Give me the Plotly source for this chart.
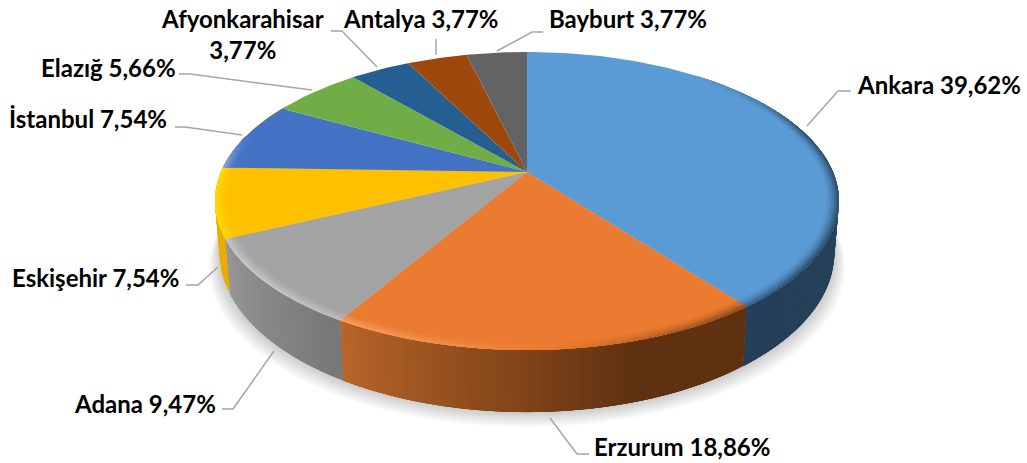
import numpy as np
import plotly.graph_objects as go

cities = ["Ankara", "Erzurum", "Adana", "Eskişehir", "İstanbul", "Elazığ", "Afyonkarahisar", "Antalya", "Bayburt"]
shares = [39.62, 18.86, 9.47, 7.54, 7.54, 5.66, 3.77, 3.77, 3.77]
top_colors = ["#5B9BD5", "#EB7B30", "#A3A3A3", "#FFC000", "#4472C4", "#70AD47", "#255E91", "#9E480E", "#636363"]
# side wall colour at the start and at the end of each slice (clockwise)
wall_from = ["#2A4B69", "#5F3111", "#777777", "#E9AE00", "#E9AE00", "#4F7A33", "#1B4468", "#6E320A", "#444444"]
wall_to = ["#243F57", "#BA6528", "#989898", "#E9AE00", "#E9AE00", "#4F7A33", "#1B4468", "#6E320A", "#444444"]
rim_light = ["#FFFFFF", "#FBAE74", "#C4C4C4", "#FFD900", "#8FAADC", "#A9D18E", "#FFFFFF", "#FFFFFF", "#FFFFFF"]

# label text anchor: x, y, xanchor
label_pos = [
    (855, 84, "left"), (592, 446, "left"), (218, 403, "right"), (181, 277, "right"),
    (7, 118, "left"), (39, 67, "left"), (242, 34, "center"), (341, 18, "left"), (547, 18, "left"),
]
leaders = [
    [(807, 126), (838, 91), (851, 91)],
    [(550, 418), (577, 454), (589, 454)],
    [(274, 351), (233, 409), (222, 409)],
    [(218, 267), (198, 285), (186, 285)],
    [(175, 127), (185, 127), (242, 135)],
    [(179, 74), (190, 74), (312, 90)],
    [(331, 31), (342, 31), (377, 67)],
    [(436, 39), (436, 55)],
    [(543, 32), (532, 32), (497, 51)],
]

CX, CY = 527, 172
A, B, K = 306, 143.4, 0.1946
DEPTH = 50


def project(theta, r=1.0, bottom=False):
    """Pie plane -> screen, theta in degrees clockwise from 12 o'clock"""
    t = np.radians(theta)
    x, y = r * np.sin(t), r * np.cos(t)
    w = 1 + K * y
    if bottom:
        return CX + 0.985 * A * x / w, CY - B * y / w + DEPTH / w
    return CX + A * x / w, CY - B * y / w


def hex_rgb(c):
    return np.array([int(c[i:i + 2], 16) for i in (1, 3, 5)], dtype=float)


def mix(c1, c2, f):
    v = hex_rgb(c1) * (1 - f) + hex_rgb(c2) * f
    return "rgb(%d,%d,%d)" % tuple(v.round())


def add_poly(fig, xs, ys, color):
    fig.add_trace(go.Scatter(x=xs, y=ys, mode="lines", fill="toself", fillcolor=color,
                             line=dict(width=0), hoverinfo="skip", showlegend=False))


fig = go.Figure()

edges = np.concatenate([[0], np.cumsum(shares)]) / sum(shares) * 360

# soft shadow under the pie
ang = np.linspace(60, 300, 121)
for i in range(10, 0, -1):
    bx, by = project(ang, bottom=True)
    bx = CX + (bx - CX) * (1 + 0.0035 * i)
    by = by + 1.5 * i
    fig.add_trace(go.Scatter(x=bx, y=by, mode="lines", fill="toself", fillcolor="rgba(0,0,0,0.018)",
                             line=dict(width=0), hoverinfo="skip", showlegend=False))

# side wall, every strip runs under the next one so no seams show
for i in range(len(shares)):
    a0, a1 = max(edges[i], 60), min(edges[i + 1], 300)
    if a1 <= a0:
        continue
    steps = np.linspace(a0, a1, max(2, int(a1 - a0) + 1))
    for s0 in steps[:-1]:
        f = (s0 - edges[i]) / (edges[i + 1] - edges[i])
        if i == 1:
            f = max(0, (f - 0.3) / 0.7)
        arc = np.linspace(s0, a1 if s0 + 4 > a1 else s0 + 4, 4)
        tx, ty = project(arc)
        bx, by = project(arc[::-1], bottom=True)
        add_poly(fig, list(tx) + list(bx), list(ty) + list(by), mix(wall_from[i], wall_to[i], f))

# top face
for i in range(len(shares)):
    steps = np.linspace(edges[i], edges[i + 1], int(edges[i + 1] - edges[i]) + 2)
    tx, ty = project(steps)
    add_poly(fig, [CX] + list(tx), [CY] + list(ty), top_colors[i])

# bevel along the rim: dark to the right, light to the left
bands = [0.962, 0.97, 0.978, 0.986, 0.994]
for b, r0 in enumerate(bands):
    amount = ((b + 1) / len(bands)) ** 1.5
    for i in range(len(shares)):
        a0, a1 = max(edges[i], 40), min(edges[i + 1], 285)
        if a1 <= a0:
            continue
        steps = np.linspace(a0, a1, max(2, int((a1 - a0) / 2) + 1))
        for s0 in steps[:-1]:
            arc = np.linspace(s0, min(s0 + 4, a1), 4)
            s = np.sin(np.radians(s0 - 175))
            s *= np.clip((s0 - 40) / 40, 0, 1) * np.clip((285 - s0) / 20, 0, 1)
            if s < 0:
                c = mix(top_colors[i], wall_from[i], min(0.9, -s * 1.2) * amount)
            else:
                c = mix(top_colors[i], rim_light[i], min(1.0, s * 1.3) * amount)
            ox, oy = project(arc, 1.0)
            ix, iy = project(arc[::-1], r0)
            add_poly(fig, list(ox) + list(ix), list(oy) + list(iy), c)

# leader lines
for pts in leaders:
    fig.add_trace(go.Scatter(x=[p[0] for p in pts], y=[p[1] for p in pts], mode="lines",
                             line=dict(color="#A6A6A6", width=1.5), hoverinfo="skip", showlegend=False))

# labels
for city, share, (x, y, anchor) in zip(cities, shares, label_pos):
    pct = f"{share:.2f}%".replace(".", ",")
    sep = "<br>" if city == "Afyonkarahisar" else " "
    fig.add_annotation(x=x, y=y, text=f"<b>{city}{sep}{pct}</b>", showarrow=False, xanchor=anchor,
                       yanchor="middle", align="center",
                       font=dict(family="Lato", size=24, color="#000000", weight=900))

fig.update_layout(
    width=1027, height=463, margin=dict(l=0, r=0, t=0, b=0),
    paper_bgcolor="white", plot_bgcolor="white", showlegend=False,
    xaxis=dict(range=[0, 1027], visible=False, fixedrange=True),
    yaxis=dict(range=[463, 0], visible=False, fixedrange=True),
)

fig.write_html("out.html", config=dict(displayModeBar=False),
               post_script="document.body.style.margin='0';document.body.style.overflow='hidden';")
